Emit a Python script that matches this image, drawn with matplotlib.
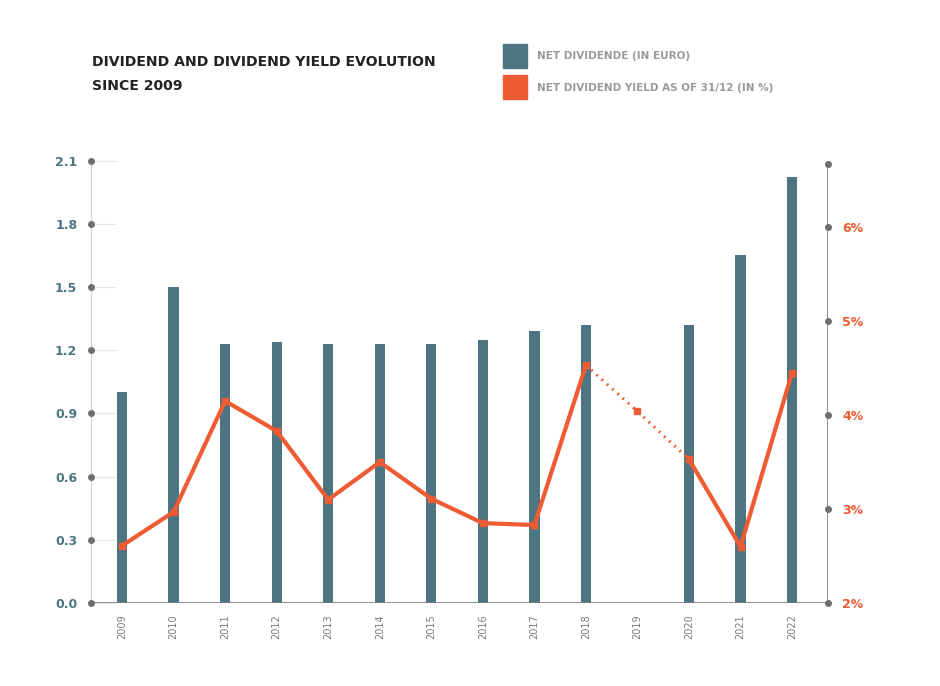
import matplotlib.pyplot as plt
from matplotlib.patches import Rectangle
import numpy as np

plt.rcParams['font.family'] = ['DejaVu Sans']

years = [2009, 2010, 2011, 2012, 2013, 2014, 2015, 2016, 2017, 2018, 2019, 2020, 2021, 2022]
dividend = [1.00, 1.50, 1.23, 1.24, 1.23, 1.23, 1.23, 1.25, 1.29, 1.32, np.nan, 1.32, 1.65, 2.02]
yield_pct = [2.61, 2.97, 4.15, 3.83, 3.10, 3.50, 3.11, 2.85, 2.83, 4.53, 4.04, 3.53, 2.60, 4.45]

left_ticks = [0.0, 0.3, 0.6, 0.9, 1.2, 1.5, 1.8, 2.1]
right_ticks = [2, 3, 4, 5, 6]

bar_color = '#4d7581'
line_color = '#ef5b33'
teal_text = '#4d7581'
grey = '#7a7a7a'

fig = plt.figure(figsize=(9.4, 6.86), dpi=100)
ax = fig.add_axes([0.097, 0.121, 0.784, 0.645])
ax2 = ax.twinx()

ax.bar(years, dividend, width=0.2, color=bar_color, zorder=2)
ax.set_xlim(2008.4, 2022.7)
ax.set_ylim(0, 2.1)
ax.set_yticks(left_ticks)
ax.set_yticklabels([f'{t:.1f}' for t in left_ticks], color=teal_text, fontweight='bold', fontsize=9)
ax.set_xticks(years)
ax.set_xticklabels([str(y) for y in years], rotation=90, color=grey, fontsize=7)
ax.tick_params(axis='x', length=0, pad=8)
ax.tick_params(axis='y', direction='in', length=18, color='#e3e7e8', pad=10)

# lines: solid up to 2018, dotted estimate 2018-2020, solid after
ax2.plot(years[:10], yield_pct[:10], color=line_color, lw=3, marker='s', ms=4, zorder=3)
ax2.plot(years[9:12], yield_pct[9:12], color=line_color, lw=2.2, ls=(0, (0.6, 1.7)), zorder=3)
ax2.plot([years[10]], [yield_pct[10]], color=line_color, marker='s', ms=4, ls='none', zorder=3)
ax2.plot(years[11:], yield_pct[11:], color=line_color, lw=3, marker='s', ms=4, zorder=3)
ax2.set_ylim(2, 6.71)
ax2.set_yticks(right_ticks)
ax2.set_yticklabels([f'{t}%' for t in right_ticks], color=line_color, fontweight='bold', fontsize=9)
ax2.tick_params(axis='y', length=0, pad=10)

for a in (ax, ax2):
    for s in a.spines.values():
        s.set_visible(False)

# custom axis lines with dots
ax.axvline(2008.4, color='#ccd3d6', lw=1, zorder=1)
ax.axhline(0, color=grey, lw=1.2, zorder=3)
ax2.axvline(2022.7, color=grey, lw=1.2, zorder=1)
ax.plot([0] * len(left_ticks), left_ticks, 'o', color='#6f6f6f', ms=4,
        transform=ax.get_yaxis_transform(), clip_on=False, zorder=4)
ax2.plot([1] * (len(right_ticks) + 1), right_ticks + [6.67], 'o', color='#6f6f6f', ms=4,
         transform=ax2.get_yaxis_transform(), clip_on=False, zorder=4)

# title
fig.text(0.098, 0.91, 'DIVIDEND AND DIVIDEND YIELD EVOLUTION', fontsize=10.1,
         fontweight='bold', color='#222222', va='center')
fig.text(0.098, 0.875, 'SINCE 2009', fontsize=10.1, fontweight='bold', color='#222222', va='center')

# legend
fig.patches.append(Rectangle((0.535, 0.901), 0.0255, 0.035, transform=fig.transFigure,
                             color=bar_color))
fig.patches.append(Rectangle((0.535, 0.855), 0.0255, 0.035, transform=fig.transFigure,
                             color=line_color))
fig.text(0.571, 0.918, 'NET DIVIDENDE (IN EURO)', fontsize=7.5, fontweight='bold',
         color='#9a9a9a', va='center')
fig.text(0.571, 0.872, 'NET DIVIDEND YIELD AS OF 31/12 (IN %)', fontsize=7.5, fontweight='bold',
         color='#9a9a9a', va='center')

fig.savefig('out.png', dpi=100)
